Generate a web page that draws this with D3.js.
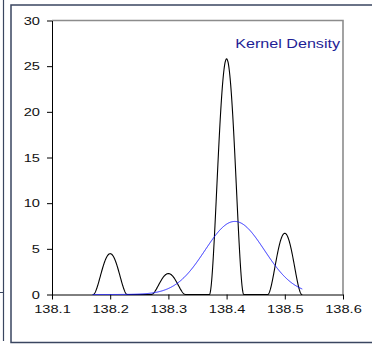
<!DOCTYPE html>
<html>
<head>
<meta charset="utf-8">
<script src="https://cdn.jsdelivr.net/npm/d3@7"></script>
<style>
  html, body { margin: 0; padding: 0; background: #fff; }
  svg { display: block; }
  text { font-family: Arial, "Liberation Sans", sans-serif; }
</style>
</head>
<body>
<script>
// ---- data ----
const xTicks = [138.1, 138.2, 138.3, 138.4, 138.5, 138.6];
const yTicks = [0, 5, 10, 15, 20, 25, 30];
const xDomain = [138.1, 138.6];
const yDomain = [0, 30];
const curveRange = [138.17, 138.53];

// narrow peaks (black curve): observation centres and peak heights
const peakCenters = [138.2, 138.3, 138.4, 138.5];
const peakHeights = [4.47, 2.29, 25.8, 6.7];
const peakRadius = 0.0295;          // kernel half-support

// wide kernel density (blue curve)
const densityCenter = 138.414;
const densitySd = 0.051;
const densityPeak = 8.0;

const legendLabel = "Kernel Density";

// ---- layout ----
const W = 372, H = 347;
const svg = d3.select("body").append("svg").attr("width", W).attr("height", H);

const x = d3.scaleLinear().domain(xDomain).range([52, 343]);
const y = d3.scaleLinear().domain(yDomain).range([294.5, 20.5]);

// outer frames
svg.append("line").attr("x1", 3.5).attr("x2", 3.5).attr("y1", 0).attr("y2", 341)
  .attr("stroke", "#3a4660").attr("stroke-width", 1.2);
svg.append("line").attr("x1", 0).attr("x2", 3.5).attr("y1", 292.5).attr("y2", 292.5)
  .attr("stroke", "#3a4660").attr("stroke-width", 1);
svg.append("rect").attr("x", 11).attr("y", 5).attr("width", 380).attr("height", 337.5)
  .attr("fill", "none").attr("stroke", "#3a4660").attr("stroke-width", 1.5);

// plot box top & right borders
svg.append("path")
  .attr("d", `M${x(xDomain[0])},${y(30)}H${x(xDomain[1])}V${y(0)}`)
  .attr("fill", "none").attr("stroke", "#8c8c8c").attr("stroke-width", 1.6);

const sx = 1.33;

// axes
const xAxis = svg.append("g").attr("transform", `translate(0,${y(0)})`)
  .call(d3.axisBottom(x).tickValues(xTicks).tickSize(5).tickSizeOuter(0).tickFormat(d3.format(".1f")));
xAxis.select(".domain").attr("stroke", "#000");
xAxis.selectAll(".tick line").attr("stroke", "#000");
xAxis.selectAll(".tick text")
  .attr("y", 0).attr("dy", null)
  .attr("transform", `translate(0,18) scale(${sx},1)`)
  .attr("font-size", 11).attr("fill", "#111")
  .attr("font-family", "Arial, 'Liberation Sans', sans-serif");

const yAxis = svg.append("g").attr("transform", `translate(${x(xDomain[0])},0)`)
  .call(d3.axisLeft(y).tickValues(yTicks).tickSize(5).tickSizeOuter(0));
yAxis.select(".domain").attr("stroke", "#000");
yAxis.selectAll(".tick line").attr("stroke", "#000");
yAxis.selectAll(".tick text")
  .attr("x", 0).attr("dy", null).attr("y", 0)
  .attr("transform", `translate(-12,3.8) scale(${sx},1)`)
  .attr("font-size", 11).attr("fill", "#111")
  .attr("font-family", "Arial, 'Liberation Sans', sans-serif");

// curves
const grid = d3.range(curveRange[0], curveRange[1] + 1e-9, 0.0005);
const narrow = v => d3.sum(peakCenters, (c, i) => {
  const u = (v - c) / peakRadius;
  return Math.abs(u) < 1 ? peakHeights[i] * Math.pow(1 - u * u, 2) : 0;
});
const wide = v => densityPeak * Math.exp(-Math.pow(v - densityCenter, 2) / (2 * densitySd * densitySd));

const line = d3.line().x(d => x(d[0])).y(d => y(d[1]));

svg.append("path").datum(grid.map(v => [v, narrow(v)]))
  .attr("d", line).attr("fill", "none").attr("stroke", "#000").attr("stroke-width", 1.1);
svg.append("path").datum(grid.map(v => [v, wide(v)]))
  .attr("d", line).attr("fill", "none").attr("stroke", "#1a1aff").attr("stroke-width", 1);

// legend label
svg.append("text")
  .attr("transform", `translate(340,47.7) scale(1.29,1)`)
  .attr("text-anchor", "end")
  .attr("font-size", 12.5)
  .attr("fill", "#1f1f96")
  .text(legendLabel);
</script>
</body>
</html>
